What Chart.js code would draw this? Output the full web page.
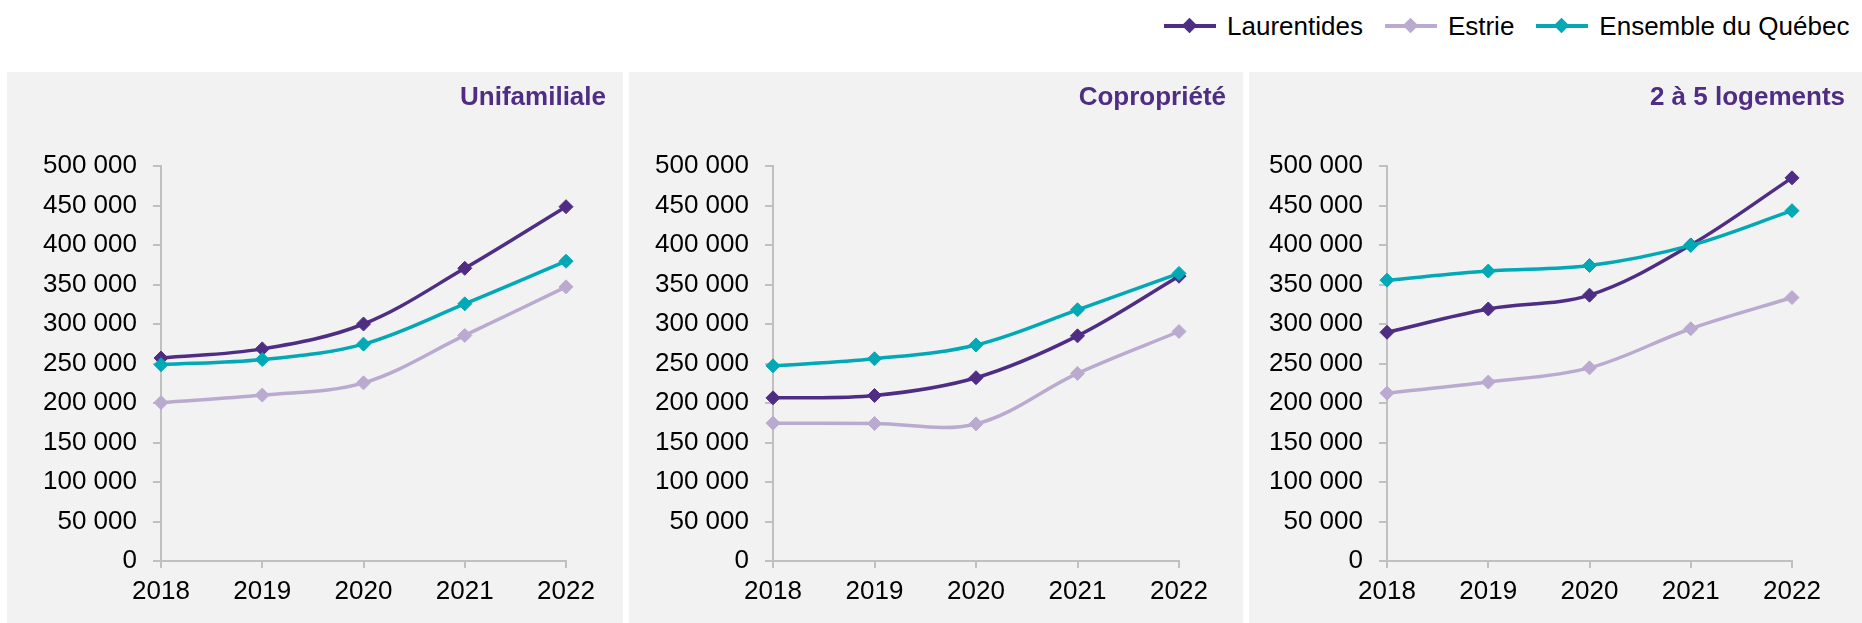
<!DOCTYPE html>
<html lang="fr">
<head>
<meta charset="UTF-8">
<title>Prix de vente médian</title>
<script src="https://cdn.jsdelivr.net/npm/chart.js"></script>
<style>
  body { margin: 0; width: 1862px; height: 623px; background: #fff; position: relative; overflow: hidden;
         font-family: 'Liberation Sans', Arial, sans-serif; }
  .panel { position: absolute; top: 72px; height: 551px; background: #f2f2f2; }
  .panel h4 { position: absolute; right: 17px; top: 8px; margin: 0; font-size: 26px; line-height: 32px;
              font-weight: bold; color: #4f2d84; z-index: 2; }
  .panel canvas { position: absolute; left: 0; top: 0; }
  #legend { position: absolute; top: 10px; left: 1164px; height: 32px; display: flex; align-items: center;
            font-size: 26px; color: #000; white-space: nowrap; }
  .item { display: flex; align-items: center; margin-right: 22px; }
  .swatch { position: relative; width: 52px; height: 4px; margin-right: 11px; }
  .swatch i { position: absolute; left: 20px; top: -4px; width: 11px; height: 11px; transform: rotate(45deg); }
</style>
</head>
<body>
  <div id="legend">
    <div class="item"><span class="swatch" style="background:#4f2d84"><i style="background:#4f2d84"></i></span>Laurentides</div>
    <div class="item"><span class="swatch" style="background:#baaad0"><i style="background:#baaad0"></i></span>Estrie</div>
    <div class="item"><span class="swatch" style="background:#00a9b5"><i style="background:#00a9b5"></i></span>Ensemble du Québec</div>
  </div>

  <div class="panel" style="left:7px;width:616px"><h4>Unifamiliale</h4><canvas id="c1" width="616" height="551"></canvas></div>
  <div class="panel" style="left:629px;width:614px"><h4>Copropriété</h4><canvas id="c2" width="614" height="551"></canvas></div>
  <div class="panel" style="left:1249px;width:613px"><h4>2 à 5 logements</h4><canvas id="c3" width="613" height="551"></canvas></div>

<script>
const years = ['2018', '2019', '2020', '2021', '2022'];

// Unifamiliale
const lau1 = [257000, 268500, 300000, 370500, 448500];
const est1 = [200500, 210000, 225500, 285500, 347000];
const ens1 = [248500, 255000, 274500, 325500, 379500];
// Copropriété
const lau2 = [206500, 209500, 232000, 285000, 360500];
const est2 = [174500, 174000, 173500, 237500, 290500];
const ens2 = [247000, 256000, 273500, 318000, 364000];
// 2 à 5 logements
const lau3 = [289500, 319000, 336500, 400000, 485000];
const est3 = [212500, 226500, 244500, 294000, 333500];
const ens3 = [355500, 367000, 374000, 399500, 443500];

const colLau = '#4f2d84', colEst = '#baaad0', colEns = '#00a9b5';
const axisGrey = '#c0c0c0';
Chart.defaults.font.family = "'Liberation Sans', Arial, sans-serif";
Chart.defaults.color = '#000';

function ds(label, data, color, order) {
  return {
    label: label, data: data, borderColor: color, backgroundColor: color,
    borderWidth: 3.5, tension: 0.35, order: order,
    pointStyle: 'rectRot', pointRadius: 7, pointBorderWidth: 1, pointBorderColor: color
  };
}

function makeChart(id, lau, est, ens, axisLeft, padRight) {
  new Chart(document.getElementById(id), {
    type: 'line',
    data: {
      labels: years,
      datasets: [ds('Laurentides', lau, colLau, 1), ds('Estrie', est, colEst, 2), ds('Ensemble du Québec', ens, colEns, 0)]
    },
    options: {
      responsive: false,
      animation: false,
      layout: { padding: { top: 94, right: padRight, left: 0, bottom: 0 } },
      plugins: { legend: { display: false }, tooltip: { enabled: false } },
      scales: {
        x: {
          offset: false,
          grid: { drawOnChartArea: false, tickLength: 7, color: axisGrey, lineWidth: 2 },
          border: { color: axisGrey, width: 2 },
          ticks: { font: { size: 26 }, padding: 8, maxRotation: 0, autoSkip: false },
          afterFit: s => { s.height = 62; }
        },
        y: {
          min: 0, max: 500000,
          grid: { drawOnChartArea: false, tickLength: 8, color: axisGrey, lineWidth: 2 },
          border: { color: axisGrey, width: 2 },
          ticks: {
            stepSize: 50000, font: { size: 26 }, padding: 16,
            callback: v => String(v).replace(/\B(?=(\d{3})+(?!\d))/g, ' ')
          },
          afterFit: s => { s.width = axisLeft; }
        }
      }
    }
  });
}

makeChart('c1', lau1, est1, ens1, 154, 57);
makeChart('c2', lau2, est2, ens2, 144, 64);
makeChart('c3', lau3, est3, ens3, 138, 70);
</script>
</body>
</html>
